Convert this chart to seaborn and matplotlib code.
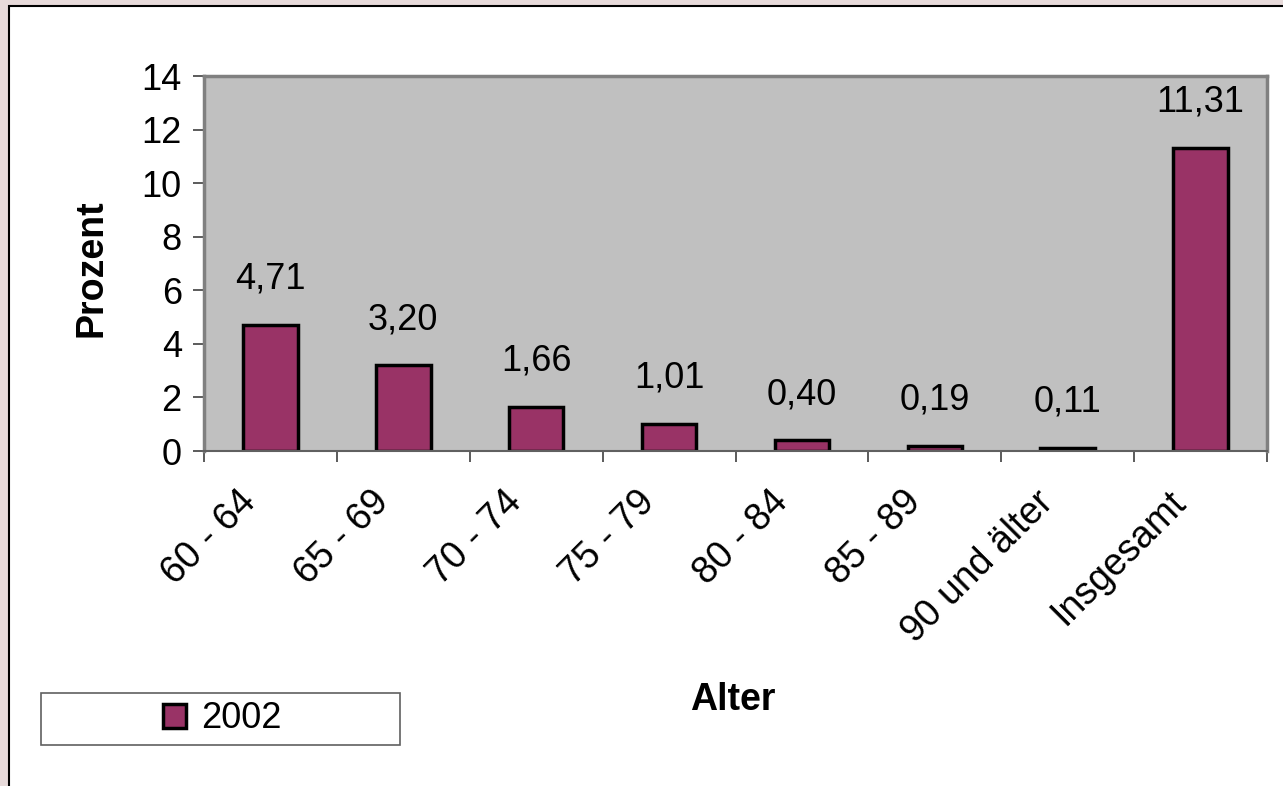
import matplotlib
matplotlib.use("Agg")
import matplotlib.pyplot as plt
import matplotlib.transforms as mtransforms
from matplotlib.patches import Rectangle
import seaborn as sns

# Anteil nach Altersgruppen, 2002
altersgruppen = ["60 - 64", "65 - 69", "70 - 74", "75 - 79", "80 - 84",
                 "85 - 89", "90 und älter", "Insgesamt"]
prozent = [4.71, 3.20, 1.66, 1.01, 0.40, 0.19, 0.11, 11.31]
wert_labels = ["4,71", "3,20", "1,66", "1,01", "0,40", "0,19", "0,11", "11,31"]
y_ticks = [0, 2, 4, 6, 8, 10, 12, 14]
serie = "2002"

W, H = 1283, 786
sns.set_theme(style="white")
plt.rcParams["font.family"] = ["Liberation Sans", "DejaVu Sans"]
plt.rcParams["text.color"] = "black"
plt.rcParams["xtick.color"] = "black"
plt.rcParams["ytick.color"] = "black"
FS = 26

fig = plt.figure(figsize=(W / 100, H / 100), dpi=100, facecolor="#e7dada")

# white chart panel with thin black frame
fig.patches.append(Rectangle((9 / W, -0.05), 1.1, 1 - 6 / H + 0.05,
                             transform=fig.transFigure, facecolor="white",
                             edgecolor="black", linewidth=1.5, zorder=-10))

ax = fig.add_axes([204 / W, 1 - 451 / H, (1267 - 204) / W, (451 - 76) / H])
ax.set_facecolor("#c0c0c0")

sns.barplot(x=altersgruppen, y=prozent, width=0.41, color="#993366",
            edgecolor="black", linewidth=2.5, saturation=1, ax=ax)

bars = ax.containers[0]
for rect, txt in zip(bars, wert_labels):
    ax.annotate(txt, (rect.get_x() + rect.get_width() / 2, rect.get_height()),
                xytext=(0, 26), textcoords="offset points", ha="center",
                va="baseline", fontsize=FS, color="black")

ax.set_xlim(-0.5, len(altersgruppen) - 0.5)
ax.set_ylim(0, 14)
ax.set_yticks(y_ticks)
ax.set_yticklabels([str(v) for v in y_ticks], fontsize=FS, color="black")

ax.set_xticks(range(len(altersgruppen)))
ax.set_xticklabels(altersgruppen, rotation=45, ha="right", va="center",
                   rotation_mode="anchor", fontsize=FS + 1, color="black")
ax.set_xticks([i - 0.5 for i in range(len(altersgruppen) + 1)], minor=True)
ax.tick_params(axis="x", which="major", length=0, pad=28)
ax.tick_params(axis="x", which="minor", length=8, width=1.2, color="#404040",
               direction="out", bottom=True)
ax.tick_params(axis="y", length=8, width=1.2, color="#404040",
               direction="out", left=True, pad=8)

# nudge the slanted category labels left/down of their tick positions
shift = mtransforms.ScaledTranslation(-20 / 100, -7 / 100, fig.dpi_scale_trans)
for lbl in ax.get_xticklabels():
    lbl.set_transform(lbl.get_transform() + shift)

for side in ["top", "right", "left"]:
    ax.spines[side].set_color("#808080")
    ax.spines[side].set_linewidth(2.5)
ax.spines["bottom"].set_color("#606060")
ax.spines["bottom"].set_linewidth(1.5)

ax.set_xlabel("")
ax.set_ylabel("")
fig.text(733 / W, 1 - 700 / H, "Alter", ha="center", va="center",
         fontsize=FS + 1, fontweight="bold", color="black")
fig.text(91 / W, 1 - 268 / H, "Prozent", ha="center", va="center",
         rotation=90, fontsize=FS + 1, fontweight="bold", color="black")

# legend box
fig.patches.append(Rectangle((41 / W, 1 - 745 / H), (400 - 41) / W, 52 / H,
                             transform=fig.transFigure, facecolor="white",
                             edgecolor="#606060", linewidth=1.2, zorder=-5))
leg = fig.legend(handles=[bars.patches[0]], labels=[serie], loc="center",
                 bbox_to_anchor=(222 / W, 1 - 719 / H), frameon=False,
                 fontsize=FS, handlelength=0.65, handleheight=0.65,
                 handletextpad=0.4, borderpad=0)
for t in leg.get_texts():
    t.set_color("black")

fig.savefig("out.png", dpi=100, facecolor=fig.get_facecolor())
